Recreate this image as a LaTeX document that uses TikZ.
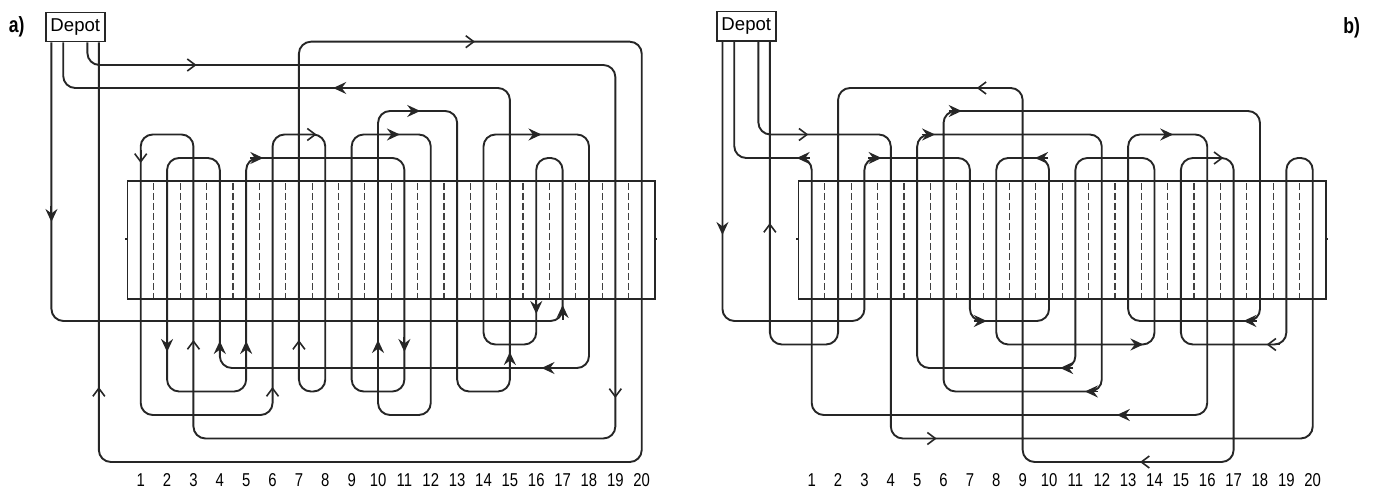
\documentclass[tikz,border=0pt]{standalone}
\usepackage{fontspec}
\setmainfont{Liberation Sans}
\newfontfamily\numfont{Liberation Sans}[FakeStretch=0.8]
\usetikzlibrary{arrows.meta,calc}
\tikzset{
  field/.style={draw=black!85,line width=0.7pt},
  rack/.style={draw=black!75,line width=0.6pt,dash pattern=on 3.5pt off 1.5pt},
  route/.style={draw=black!85,line width=0.95pt,rounded corners=6pt},
  tipF/.style={-{Stealth[length=6.5pt,width=6pt,inset=2.2pt]},line width=0.95pt,black!85},
  tipO/.style={-{Straight Barb[length=4pt,width=6pt]},line width=0.8pt,black!85},
  depot/.style={draw=black!85,line width=0.7pt,minimum width=29.5pt,minimum height=14.7pt,
               inner sep=0pt,font=\fontsize{9.3}{10}\selectfont},
  aisle/.style={inner sep=0pt,font=\numfont\fontsize{9.3}{10}\selectfont},
  panel/.style={inner sep=0pt,font=\numfont\bfseries\fontsize{11}{12}\selectfont},
}

\begin{document}
\begin{tikzpicture}[x=0.5pt,y=-0.5pt]
  \useasboundingbox (0,0) rectangle (1377,490);
  \node[panel] (la) at (16.7,27) {a)};
  \node[panel] (lb) at (1351.7,28) {b)};

  % ---------------- a) ----------------
  \begin{scope}[xshift=57.165pt,x=13.185pt]
  \node[depot] (depotA) at (-1.48,27) {Depot};
  \coordinate (a1) at ($(depotA.south west)!0.105!(depotA.south east)$);
  \coordinate (a2) at ($(depotA.south west)!0.30!(depotA.south east)$);
  \coordinate (a3) at ($(depotA.south west)!0.70!(depotA.south east)$);
  \coordinate (a4) at ($(depotA.south west)!0.89!(depotA.south east)$);
  % storage block and aisles
  \draw[field] (0.5,181) rectangle (20.5,299);
  \foreach \i in {1,...,19}
    \draw[rack] (\i+0.5,183) -- (\i+0.5,298);
  \draw[field,line width=1pt] (0.5,239) -- (0.42,239);
  \draw[field,line width=1pt] (20.5,239) -- (20.58,239);
  \foreach \i in {1,...,20}
    \node[aisle] (na\i) at (\i,480) {\i};
  % Route 1 (filled tips)
  \draw[route] (a1) -- (a1 |- 0,321) -- (17,321) -- (17,158) -- (16,158) -- (16,344.5)
    -- (14,344.5) -- (14,134.5) -- (18,134.5) -- (18,368) -- (4,368) -- (4,158)
    -- (2,158) -- (2,391.5) -- (5,391.5) -- (5,158) -- (11,158) -- (11,391.5)
    -- (9,391.5) -- (9,134.5) -- (12,134.5) -- (12,415) -- (10,415) -- (10,111)
    -- (13,111) -- (13,391.5) -- (15,391.5) -- (15,88) -- (a2 |- 0,88) -- (a2);
  \draw[tipF] (a1 |- 0,206) -- (a1 |- 0,222);
  \draw[tipF] (17,320) -- (17,305);
  \draw[tipF] (16,299) -- (16,314);
  \draw[tipF] (15.7,134.5) -- (16.2,134.5);
  \draw[tipF] (16.7,368) -- (16.2,368);
  \draw[tipF] (4,356) -- (4,341);
  \draw[tipF] (2,337) -- (2,352);
  \draw[tipF] (5,356) -- (5,341);
  \draw[tipF] (5.15,158) -- (5.65,158);
  \draw[tipF] (11,337) -- (11,352);
  \draw[tipF] (10.33,134.5) -- (10.83,134.5);
  \draw[tipF] (10,355) -- (10,340);
  \draw[tipF] (11.1,111) -- (11.6,111);
  \draw[tipF] (15,367) -- (15,352);
  \draw[tipF] (8.8,88) -- (8.3,88);
  % Route 2 (open tips)
  \draw[route] (a3) -- (a3 |- 0,65) -- (19,65) -- (19,438.5) -- (3,438.5) -- (3,134.5)
    -- (1,134.5) -- (1,415) -- (6,415) -- (6,134.5) -- (8,134.5) -- (8,391.5)
    -- (7,391.5) -- (7,41.7) -- (20,41.7) -- (20,462) -- (a4 |- 0,462) -- (a4);
  \draw[tipO] (2.62,65) -- (3.12,65);
  \draw[tipO] (19,385) -- (19,398);
  \draw[tipO] (3,353) -- (3,340);
  \draw[tipO] (1,150) -- (1,163);
  \draw[tipO] (6,400) -- (6,387);
  \draw[tipO] (7.17,134.5) -- (7.67,134.5);
  \draw[tipO] (7,353) -- (7,340);
  \draw[tipO] (13.18,41.7) -- (13.68,41.7);
  \draw[tipO] (a4 |- 0,400) -- (a4 |- 0,387);
  \end{scope}

  % ---------------- b) ----------------
  \begin{scope}[xshift=392.665pt,x=13.185pt]
  \node[depot] (depotB) at (-1.48,26.5) {Depot};
  \coordinate (b1) at ($(depotB.south west)!0.105!(depotB.south east)$);
  \coordinate (b2) at ($(depotB.south west)!0.30!(depotB.south east)$);
  \coordinate (b3) at ($(depotB.south west)!0.70!(depotB.south east)$);
  \coordinate (b4) at ($(depotB.south west)!0.89!(depotB.south east)$);
  % storage block and aisles
  \draw[field] (0.5,181) rectangle (20.5,299);
  \foreach \i in {1,...,19}
    \draw[rack] (\i+0.5,183) -- (\i+0.5,298);
  \draw[field,line width=1pt] (0.5,239) -- (0.42,239);
  \draw[field,line width=1pt] (20.5,239) -- (20.58,239);
  \foreach \i in {1,...,20}
    \node[aisle] (nb\i) at (\i,480) {\i};
  % Route 1 (filled tips)
  \draw[route] (b1) -- (b1 |- 0,321) -- (3,321) -- (3,158) -- (7,158) -- (7,321)
    -- (10,321) -- (10,158) -- (8,158) -- (8,344.5) -- (14,344.5) -- (14,158)
    -- (11,158) -- (11,368) -- (5,368) -- (5,134.5) -- (12,134.5) -- (12,391.5)
    -- (6,391.5) -- (6,111) -- (18,111) -- (18,321) -- (13,321) -- (13,134.5)
    -- (16,134.5) -- (16,415) -- (1,415) -- (1,158) -- (b2 |- 0,158) -- (b2);
  \draw[tipF] (b1 |- 0,219) -- (b1 |- 0,235);
  \draw[tipF] (3.15,158) -- (3.65,158);
  \draw[tipF] (7.14,321) -- (7.64,321);
  \draw[tipF] (9.97,158) -- (9.47,158);
  \draw[tipF] (13.08,344.5) -- (13.58,344.5);
  \draw[tipF] (10.92,368) -- (10.42,368);
  \draw[tipF] (5.18,134.5) -- (5.68,134.5);
  \draw[tipF] (11.86,391.5) -- (11.36,391.5);
  \draw[tipF] (6.19,111) -- (6.69,111);
  \draw[tipF] (17.87,321) -- (17.37,321);
  \draw[tipF] (14.21,134.5) -- (14.71,134.5);
  \draw[tipF] (13.07,415) -- (12.57,415);
  \draw[tipF] (0.93,158) -- (0.43,158);
  % Route 2 (open tips)
  \draw[route] (b3) -- (b3 |- 0,134.5) -- (4,134.5) -- (4,438.5) -- (20,438.5)
    -- (20,158) -- (19,158) -- (19,344.5) -- (15,344.5) -- (15,158) -- (17,158)
    -- (17,462) -- (9,462) -- (9,88) -- (2,88) -- (2,344.5) -- (b4 |- 0,344.5) -- (b4);
  \draw[tipO] (0.37,134.5) -- (0.87,134.5);
  \draw[tipO] (5.24,438.5) -- (5.74,438.5);
  \draw[tipO] (18.75,344.5) -- (18.25,344.5);
  \draw[tipO] (16.11,158) -- (16.61,158);
  \draw[tipO] (13.95,462) -- (13.45,462);
  \draw[tipO] (7.76,88) -- (7.26,88);
  \draw[tipO] (b4 |- 0,236) -- (b4 |- 0,223);
  \end{scope}
\end{tikzpicture}
\end{document}
